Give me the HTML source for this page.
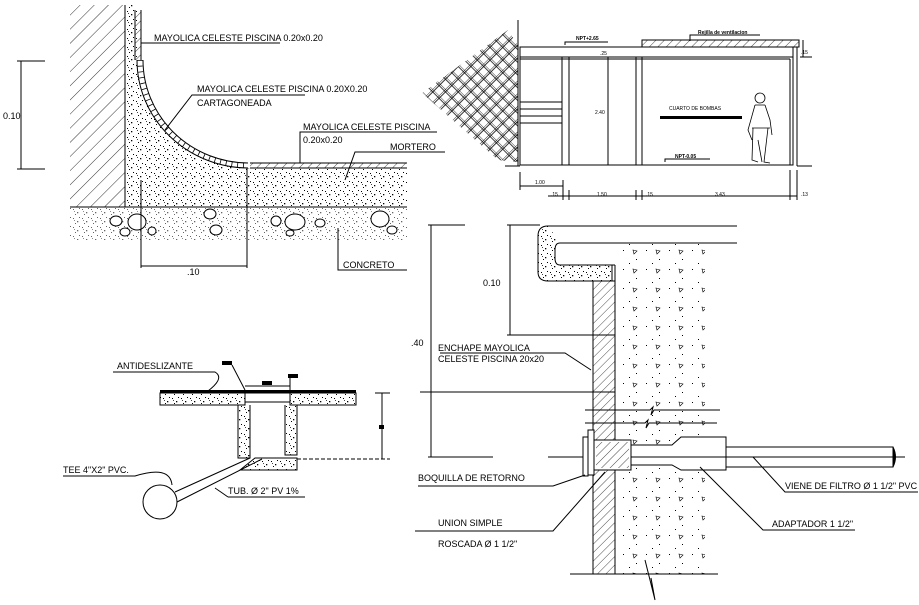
<!DOCTYPE html>
<html><head><meta charset="utf-8"><style>
html,body{margin:0;padding:0;background:#fff;}
svg{display:block;}
text{font-family:"Liberation Sans",sans-serif;font-size:9px;fill:#000;}
</style></head><body>
<svg width="919" height="605" viewBox="0 0 919 605" xmlns="http://www.w3.org/2000/svg">
<defs>
<pattern id="dots" width="9" height="9" patternUnits="userSpaceOnUse">
<rect x="1" y="2" width="1" height="1" fill="#000"/><rect x="5" y="5" width="1.3" height="1.3" fill="#000"/><rect x="7" y="1" width="1" height="1" fill="#000"/><rect x="3" y="7" width="1" height="1" fill="#000"/><rect x="2" y="4" width="1" height="1" fill="#444"/>
</pattern>
<pattern id="sdots" width="23" height="19" patternUnits="userSpaceOnUse">
<rect x="2" y="3" width="1" height="1" fill="#000"/><rect x="15" y="12" width="1" height="1" fill="#000"/><rect x="8" y="16" width="1" height="1" fill="#000"/><path d="M12 3 l4 1 l-3 3z" fill="none" stroke="#000" stroke-width="0.6"/>
</pattern>
<pattern id="hatch" width="10" height="10" patternUnits="userSpaceOnUse" patternTransform="rotate(45)">
<line x1="0" y1="0" x2="0" y2="10" stroke="#000" stroke-width="0.8"/>
</pattern>
<pattern id="hatch2" width="6" height="6" patternUnits="userSpaceOnUse" patternTransform="rotate(45)">
<line x1="0" y1="0" x2="0" y2="6" stroke="#000" stroke-width="0.7"/>
</pattern>
<pattern id="cross" width="9" height="9" patternUnits="userSpaceOnUse" patternTransform="rotate(45)">
<path d="M0 0 H9 M0 2 H9 M0 0 V9 M2 0 V9" stroke="#000" stroke-width="0.8" fill="none"/>
</pattern>
</defs>
<g stroke="#000" fill="none" stroke-width="1">
<!-- TOP LEFT -->
<rect x="70" y="5" width="55" height="202" fill="url(#hatch)" stroke="none"/>
<line x1="125" y1="5" x2="125" y2="207"/>
<line x1="135" y1="10" x2="135" y2="60"/><line x1="141" y1="10" x2="141" y2="60"/>
<rect x="135" y="10" width="6" height="50" fill="url(#hatch2)" stroke="none"/>
<path d="M125 5 V207 H407 V168 H250 A112 108 0 0 1 137 60 V5 Z" fill="url(#dots)" stroke="none"/>
<path d="M137 60 A112 108 0 0 0 248 168" />
<path d="M143 60 A106 103 0 0 0 248 163" />
<path d="M140 60 A109 105.5 0 0 0 248 165.5" stroke-width="5" stroke-dasharray="0.8 5"/>
<line x1="250" y1="163" x2="407" y2="163"/><line x1="250" y1="168" x2="407" y2="168"/>
<rect x="250" y="163" width="157" height="5" fill="url(#hatch2)" stroke="none"/>
<line x1="70" y1="207" x2="407" y2="207"/>
<rect x="70" y="208" width="337" height="32" fill="url(#dots)" stroke="none" opacity="0.6"/>
<g fill="#fff">
<ellipse cx="116" cy="221" rx="6" ry="5"/><ellipse cx="137" cy="222" rx="9" ry="8"/><ellipse cx="125" cy="232" rx="5" ry="4"/><ellipse cx="152" cy="231" rx="4" ry="4"/>
<ellipse cx="210" cy="214" rx="6" ry="5"/><ellipse cx="216" cy="230" rx="6" ry="5"/><ellipse cx="276" cy="221" rx="5" ry="5"/><ellipse cx="295" cy="222" rx="10" ry="8"/><ellipse cx="320" cy="223" rx="5" ry="4"/><ellipse cx="380" cy="219" rx="9" ry="8"/><ellipse cx="392" cy="230" rx="5" ry="4"/><ellipse cx="290" cy="233" rx="4" ry="3"/>
</g>
<line x1="141" y1="43" x2="280" y2="43"/>
<path d="M165 130 L192 95 H305"/>
<path d="M300 163 V132 H437"/>
<path d="M345 180 L355 152 H445"/>
<path d="M338 228 V270 H407"/>
<line x1="21" y1="61" x2="21" y2="169"/><line x1="17" y1="61" x2="45" y2="61"/><line x1="17" y1="169" x2="45" y2="169"/>
<line x1="141" y1="266" x2="247" y2="266"/><line x1="141" y1="180" x2="141" y2="268"/><line x1="247" y1="168" x2="247" y2="268"/>
<!-- TOP RIGHT building -->
<path d="M508 30 L518 45 L518 162 L498 160 L422 93 Z" fill="url(#cross)" stroke="none"/>
<line x1="518" y1="20" x2="518" y2="166"/>
<rect x="520" y="47" width="273" height="118"/>
<line x1="520" y1="57" x2="793" y2="57"/><line x1="520" y1="59" x2="790" y2="59"/>
<line x1="797" y1="47" x2="797" y2="166"/><line x1="790" y1="59" x2="790" y2="165"/>
<line x1="505" y1="166" x2="520" y2="166"/><line x1="797" y1="166" x2="812" y2="166"/>
<line x1="562" y1="57" x2="562" y2="165"/><line x1="569" y1="57" x2="569" y2="165"/><line x1="608" y1="57" x2="608" y2="165"/><line x1="636" y1="57" x2="636" y2="165"/><line x1="642" y1="57" x2="642" y2="165"/>
<line x1="520" y1="102" x2="562" y2="102"/><line x1="520" y1="109" x2="562" y2="109"/><line x1="520" y1="116" x2="562" y2="116"/><line x1="520" y1="123" x2="562" y2="123"/>
<rect x="642" y="40" width="157" height="7" fill="url(#hatch2)" stroke="#000"/>
<rect x="660" y="116" width="82" height="3" fill="#000" stroke="none"/>
<path d="M565 45 L565 42 H608"/><path d="M665 162 V159 H710"/><path d="M690 41 V35 H760"/>
<line x1="803" y1="40" x2="803" y2="57"/><line x1="800" y1="57" x2="812" y2="57"/>
<g stroke-width="0.8">
<ellipse cx="760" cy="98" rx="5" ry="5"/><path d="M755 105 L748 130 L752 140 M765 105 L770 120 L772 135 M755 105 L765 105 M752 128 L770 128 M753 128 L752 160 L758 162 M768 128 L764 162 L770 163 M758 140 L762 162"/>
</g>
<line x1="520" y1="186" x2="563" y2="186"/><line x1="520" y1="172" x2="520" y2="190"/><line x1="563" y1="180" x2="563" y2="200"/>
<line x1="548" y1="196" x2="797" y2="196"/>
<line x1="569" y1="190" x2="569" y2="200"/><line x1="636" y1="190" x2="636" y2="200"/><line x1="642" y1="190" x2="642" y2="200"/><line x1="790" y1="170" x2="790" y2="200"/><line x1="797" y1="170" x2="797" y2="200"/>
<!-- BOTTOM RIGHT -->
<path d="M548 226 H737 M560 243 H737 M548 226 Q538 226 538 236 V272 Q538 281 548 281 H612 V265 H560 Q555 265 555 258 V250 Q555 243 560 243" fill="url(#dots)"/>
<rect x="615" y="243" width="90" height="331" fill="url(#sdots)" stroke="none"/>
<rect x="593" y="281" width="22" height="293" fill="url(#hatch2)"/>
<line x1="612" y1="265" x2="615" y2="265"/><line x1="615" y1="265" x2="615" y2="574"/>
<line x1="431" y1="225" x2="431" y2="457"/><line x1="428" y1="225" x2="465" y2="225"/><line x1="428" y1="457" x2="493" y2="457"/>
<line x1="510" y1="225" x2="510" y2="335"/><line x1="507" y1="225" x2="540" y2="225"/><line x1="507" y1="335" x2="615" y2="335"/>
<line x1="420" y1="392" x2="615" y2="392"/>
<path d="M585 410 H650 l3 -3 l-2 8 l3 -5 H720"/><path d="M585 423 H645 l3 -3 l-2 8 l3 -5 H717"/>
<path d="M631 445 H672 L681 437 H726 V470 H681 L672 465 H631 Z" fill="#fff"/>
<rect x="726" y="447" width="167" height="20" fill="#fff"/>
<line x1="548" y1="457" x2="905" y2="457"/>
<rect x="583" y="437" width="5" height="39" fill="#fff"/>
<rect x="588" y="430" width="6" height="45" fill="#fff"/>
<rect x="594" y="440" width="37" height="30" fill="#fff"/>
<rect x="596" y="442" width="33" height="26" fill="url(#hatch2)" stroke="none"/>
<path d="M893 447 Q898 457 893 467" fill="#000"/>
<line x1="570" y1="574" x2="718" y2="574"/>
<path d="M645 560 L655 600 L651 578"/>
<path d="M440 353 H565 L591 370"/>
<path d="M418 486 H553 L585 475"/>
<path d="M415 531 H553 L605 472"/>
<path d="M700 467 L763 530 H855"/>
<path d="M753 457 L785 492 H918"/>
<!-- BOTTOM LEFT -->
<rect x="160" y="390" width="196" height="3" fill="#000" stroke="none"/>
<path d="M160 393 H245 V405 H160 Z M290 393 H356 V405 H290 Z" fill="url(#dots)"/>
<rect x="245" y="393" width="45" height="9" fill="#fff"/>
<path d="M238 405 V458 H250 V405 M285 405 V455 H297 V405" fill="url(#dots)"/>
<path d="M255 458 H297 V470 H240 Z" fill="url(#dots)"/>
<path d="M250 458 L175 492 M262 459 L177 502"/>
<circle cx="160" cy="502" r="17" fill="#fff"/>
<rect x="222" y="361" width="10" height="4" fill="#000" stroke="none"/><rect x="262" y="381" width="10" height="4" fill="#000" stroke="none"/><rect x="288" y="374" width="10" height="4" fill="#000" stroke="none"/>
<path d="M232 365 L245 390 M290 378 V390 M245 386 H290"/>
<path d="M113 372 H215 Q225 378 208 391"/>
<path d="M63 476 H135 Q170 465 172 485"/>
<path d="M228 497 H305 M228 497 Q218 490 215 488"/>
<line x1="382" y1="393" x2="382" y2="459"/><line x1="375" y1="393" x2="390" y2="393"/>
<line x1="297" y1="459" x2="390" y2="459" stroke-dasharray="4 2"/>
<rect x="379" y="425" width="5" height="4" fill="#000" stroke="none"/>
</g>
<text x="154" y="41">MAYOLICA CELESTE PISCINA 0.20x0.20</text>
<text x="197" y="92">MAYOLICA CELESTE PISCINA 0.20X0.20</text>
<text x="197" y="106">CARTAGONEADA</text>
<text x="303" y="130">MAYOLICA CELESTE PISCINA</text>
<text x="303" y="143">0.20x0.20</text>
<text x="390" y="150">MORTERO</text>
<text x="343" y="268">CONCRETO</text>
<text x="3" y="119">0.10</text>
<text x="187" y="275">.10</text>
<text x="576" y="40" style="font-size:5px;font-weight:bold">NPT+2.65</text>
<text x="698" y="34" style="font-size:5px;font-weight:bold">Rejilla de ventilacion</text>
<text x="600" y="55" style="font-size:5px">.25</text>
<text x="595" y="114" style="font-size:5px">2.40</text>
<text x="669" y="110" style="font-size:5px">CUARTO DE BOMBAS</text>
<text x="675" y="158" style="font-size:5px;font-weight:bold">NPT-0.05</text>
<text x="535" y="184" style="font-size:5px">1.00</text>
<text x="551" y="196" style="font-size:5px">.15</text>
<text x="597" y="196" style="font-size:5px">1.50</text>
<text x="646" y="196" style="font-size:5px">.15</text>
<text x="715" y="196" style="font-size:5px">3.43</text>
<text x="801" y="196" style="font-size:5px">.13</text>
<text x="801" y="54" style="font-size:5px">.15</text>
<text x="411" y="346">.40</text>
<text x="483" y="286">0.10</text>
<text x="438" y="351">ENCHAPE MAYOLICA</text>
<text x="438" y="362">CELESTE PISCINA 20x20</text>
<text x="418" y="481">BOQUILLA DE RETORNO</text>
<text x="438" y="526">UNION SIMPLE</text>
<text x="438" y="547">ROSCADA Ø 1 1/2"</text>
<text x="772" y="527">ADAPTADOR 1 1/2"</text>
<text x="785" y="489">VIENE DE FILTRO Ø 1 1/2" PVC</text>
<text x="117" y="369">ANTIDESLIZANTE</text>
<text x="63" y="473">TEE 4"X2" PVC.</text>
<text x="228" y="494">TUB. Ø 2" PV  1%</text>
</svg>
</body></html>
